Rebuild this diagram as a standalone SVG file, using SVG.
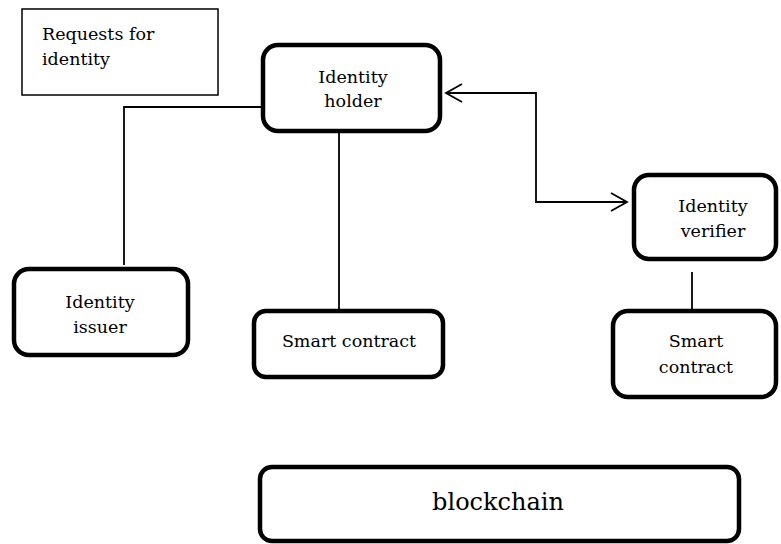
<svg xmlns="http://www.w3.org/2000/svg" width="781" height="544" viewBox="0 0 781 544">
<defs>
<style>
.n{fill:#fff;stroke:#000;stroke-width:4.5}
.t{font-family:"DejaVu Serif","Liberation Serif",serif;font-size:17.5px;fill:#000;text-anchor:middle}
.s{text-anchor:start}
.c{fill:none;stroke:#000;stroke-width:1.8}
</style>
<marker id="open" viewBox="0 0 20 20" refX="18" refY="10" markerWidth="20" markerHeight="20" markerUnits="userSpaceOnUse" orient="auto-start-reverse">
<path d="M2,1 L18,10 L2,19" fill="none" stroke="#000" stroke-width="1.8"/>
</marker>
</defs>
<rect width="781" height="544" fill="#fff"/>
<g id="connectors">
<polyline class="c" points="268,107 124,107 124,265"/>
<line class="c" x1="339" y1="133" x2="339" y2="317"/>
<polyline class="c" points="446,93 536,93 536,202 627,202" marker-start="url(#open)" marker-end="url(#open)"/>
<line class="c" x1="692" y1="272" x2="692" y2="317"/>
</g>
<g id="requests">
<rect x="22" y="9" width="196" height="86" fill="#fff" stroke="#000" stroke-width="1.5"/>
<text class="t s" x="42" y="40">Requests for</text>
<text class="t s" x="42" y="65">identity</text>
</g>
<g id="holder">
<rect class="n" x="263" y="45" width="177" height="86" rx="15"/>
<text class="t" x="353" y="83">Identity</text>
<text class="t" x="353" y="107">holder</text>
</g>
<g id="issuer">
<rect class="n" x="14" y="269" width="174" height="86" rx="15"/>
<text class="t" x="100" y="308">Identity</text>
<text class="t" x="100" y="333">issuer</text>
</g>
<g id="contract1">
<rect class="n" x="254" y="311" width="189" height="66" rx="12"/>
<text class="t" x="349" y="347">Smart contract</text>
</g>
<g id="verifier">
<rect class="n" x="634" y="175" width="142" height="84" rx="15"/>
<text class="t" x="713" y="212">Identity</text>
<text class="t" x="713" y="237">verifier</text>
</g>
<g id="contract2">
<rect class="n" x="613" y="311" width="163" height="86" rx="15"/>
<text class="t" x="696" y="347">Smart</text>
<text class="t" x="696" y="373">contract</text>
</g>
<g id="blockchain">
<rect class="n" x="260" y="467" width="479" height="74" rx="12"/>
<text class="t" x="498" y="510" style="font-size:24px">blockchain</text>
</g>
</svg>
